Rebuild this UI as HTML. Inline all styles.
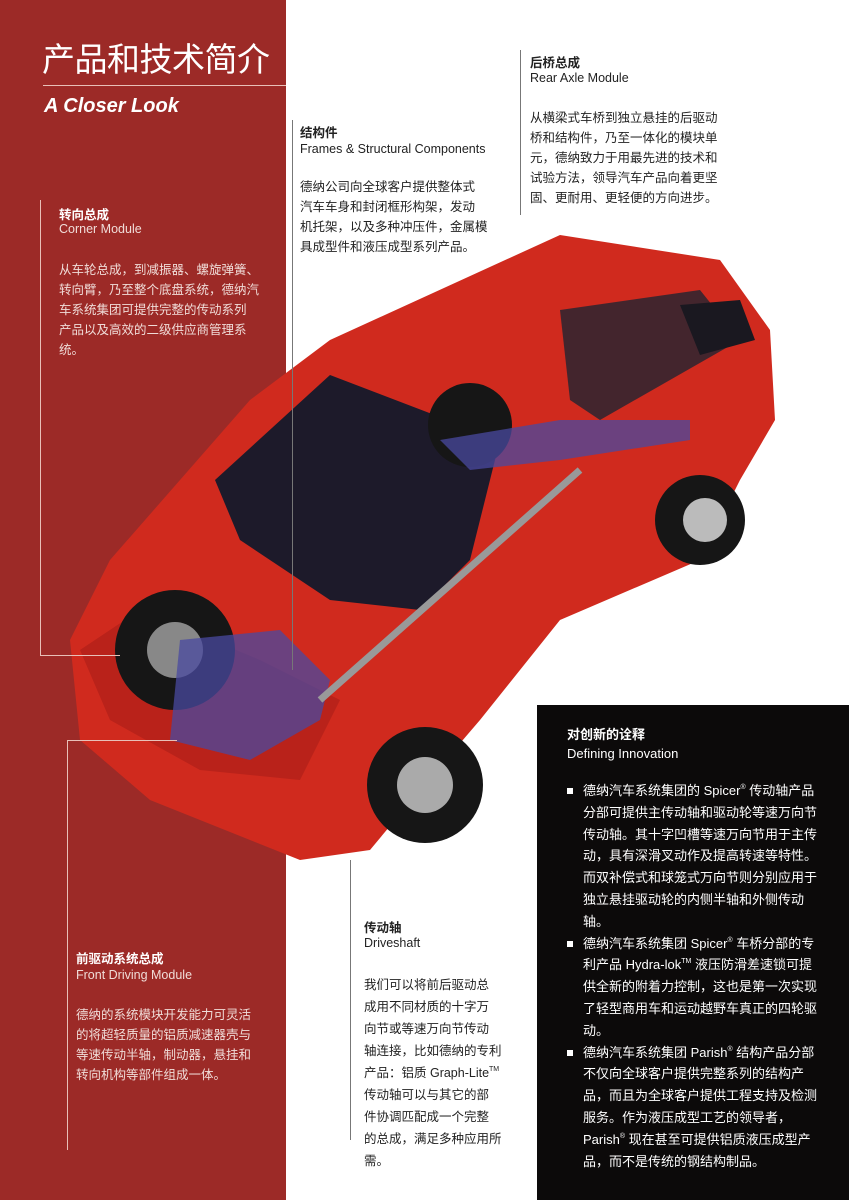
<!DOCTYPE html>
<html><head><meta charset="utf-8"><style>
body{margin:0;width:849px;height:1200px;position:relative;overflow:hidden;background:#fff;font-family:"Liberation Sans","Noto Sans CJK SC",sans-serif;}
.a{position:absolute}
.red{left:0;top:0;width:286px;height:1200px;background:#9c2a27}
.blk{left:537px;top:705px;width:312px;height:495px;background:#0c0a0a}
.h{font-size:12.5px;font-weight:bold}
.s{font-size:12.5px}
.p{font-size:12.5px;line-height:20px}
.w{color:#fff}.lw{color:#f0dcd8}.d{color:#222}
.ln{position:absolute;background:#777}
sup{font-size:7px;line-height:0;vertical-align:6px}
ul{margin:0;padding:0;list-style:none}
li{position:relative;padding-left:16px;white-space:nowrap}
li:before{content:"";position:absolute;left:0;top:8px;width:6px;height:6px;background:#fff}
</style></head><body>
<div class="a red"></div>
<svg class="a" style="left:0;top:0" width="849" height="1200">
<path d="M70 640 L110 560 L250 400 L330 340 L560 235 L720 260 L770 330 L775 420 L740 480 L700 560 L560 620 L480 720 L420 790 L370 850 L300 860 L150 800 L80 740 Z" fill="#d02a1e"/>
<path d="M215 480 L330 375 L500 440 L470 560 L420 610 L330 600 L240 540 Z" fill="#1d1a2a"/>
<path d="M560 310 L700 290 L740 340 L600 420 L570 400 Z" fill="#2a2530" opacity="0.85"/>
<path d="M680 305 L740 300 L755 340 L700 355 Z" fill="#1a1820"/>
<path d="M80 650 L140 610 L260 660 L340 700 L300 780 L200 770 L110 720 Z" fill="#b9221a"/>
<circle cx="175" cy="650" r="60" fill="#161616"/><circle cx="175" cy="650" r="28" fill="#888"/>
<circle cx="425" cy="785" r="58" fill="#161616"/><circle cx="425" cy="785" r="28" fill="#aaa"/>
<circle cx="470" cy="425" r="42" fill="#161616"/>
<circle cx="700" cy="520" r="45" fill="#161616"/><circle cx="705" cy="520" r="22" fill="#bbb"/>
<path d="M180 640 L280 630 L330 680 L320 720 L250 760 L170 740 Z" fill="#4a4aa0" opacity="0.75"/>
<path d="M440 440 L560 420 L690 420 L690 440 L560 460 L470 470 Z" fill="#4a4aa0" opacity="0.75"/>
<line x1="320" y1="700" x2="580" y2="470" stroke="#999" stroke-width="7"/>
</svg>
<div class="ln" style="left:43px;top:85px;width:243px;height:1px;background:#e8c0b8"></div>
<div class="a w" style="left:42px;top:33px;font-size:33px;letter-spacing:-0.5px;white-space:nowrap">产品和技术简介</div>
<div class="a w" style="left:44px;top:95px;font-size:20px;font-weight:bold;font-style:italic">A Closer Look</div>
<div class="ln" style="left:40px;top:200px;width:1px;height:455px;background:#e8c0b8"></div>
<div class="ln" style="left:40px;top:655px;width:80px;height:1px;background:#e8c0b8"></div>
<div class="ln" style="left:67px;top:740px;width:1px;height:410px;background:#e8c0b8"></div>
<div class="ln" style="left:67px;top:740px;width:110px;height:1px;background:#e8c0b8"></div>
<div class="ln" style="left:292px;top:120px;width:1px;height:550px"></div>
<div class="ln" style="left:520px;top:50px;width:1px;height:165px"></div>
<div class="ln" style="left:350px;top:860px;width:1px;height:280px"></div>
<div class="a w h" style="left:59px;top:204px">转向总成</div>
<div class="a lw s" style="left:59px;top:222px">Corner Module</div>
<div class="a lw p" style="left:59px;top:260px;width:210px">从车轮总成，到减振器、螺旋弹簧、<br>转向臂，乃至整个底盘系统，德纳汽<br>车系统集团可提供完整的传动系列<br>产品以及高效的二级供应商管理系<br>统。</div>
<div class="a d h" style="left:300px;top:122px">结构件</div>
<div class="a d s" style="left:300px;top:142px">Frames &amp; Structural Components</div>
<div class="a d p" style="left:300px;top:177px;width:200px">德纳公司向全球客户提供整体式<br>汽车车身和封闭框形构架，发动<br>机托架，以及多种冲压件，金属模<br>具成型件和液压成型系列产品。</div>
<div class="a d h" style="left:530px;top:52px">后桥总成</div>
<div class="a d s" style="left:530px;top:71px">Rear Axle Module</div>
<div class="a d p" style="left:530px;top:108px;width:200px">从横梁式车桥到独立悬挂的后驱动<br>桥和结构件，乃至一体化的模块单<br>元，德纳致力于用最先进的技术和<br>试验方法，领导汽车产品向着更坚<br>固、更耐用、更轻便的方向进步。</div>
<div class="a w h" style="left:76px;top:948px">前驱动系统总成</div>
<div class="a lw s" style="left:76px;top:968px">Front Driving Module</div>
<div class="a lw p" style="left:76px;top:1005px;width:200px">德纳的系统模块开发能力可灵活<br>的将超轻质量的铝质减速器壳与<br>等速传动半轴，制动器，悬挂和<br>转向机构等部件组成一体。</div>
<div class="a d h" style="left:364px;top:917px">传动轴</div>
<div class="a d s" style="left:364px;top:936px">Driveshaft</div>
<div class="a d p" style="left:364px;top:974px;width:170px;line-height:22px">我们可以将前后驱动总<br>成用不同材质的十字万<br>向节或等速万向节传动<br>轴连接，比如德纳的专利<br>产品：铝质 Graph-Lite<sup>TM</sup><br>传动轴可以与其它的部<br>件协调匹配成一个完整<br>的总成，满足多种应用所<br>需。</div>
<div class="a blk"></div>
<div class="a w h" style="left:567px;top:724px;font-size:13px">对创新的诠释</div>
<div class="a w s" style="left:567px;top:746px;font-size:13px">Defining Innovation</div>
<div class="a w" style="left:567px;top:780px;font-size:13px;line-height:21.8px">
<ul>
<li>德纳汽车系统集团的 Spicer<sup>®</sup> 传动轴产品<br>分部可提供主传动轴和驱动轮等速万向节<br>传动轴。其十字凹槽等速万向节用于主传<br>动，具有深滑叉动作及提高转速等特性。<br>而双补偿式和球笼式万向节则分别应用于<br>独立悬挂驱动轮的内侧半轴和外侧传动<br>轴。</li>
<li>德纳汽车系统集团 Spicer<sup>®</sup> 车桥分部的专<br>利产品 Hydra-lok<sup>TM</sup> 液压防滑差速锁可提<br>供全新的附着力控制，这也是第一次实现<br>了轻型商用车和运动越野车真正的四轮驱<br>动。</li>
<li>德纳汽车系统集团 Parish<sup>®</sup> 结构产品分部<br>不仅向全球客户提供完整系列的结构产<br>品，而且为全球客户提供工程支持及检测<br>服务。作为液压成型工艺的领导者，<br>Parish<sup>®</sup> 现在甚至可提供铝质液压成型产<br>品，而不是传统的钢结构制品。</li>
</ul></div>
</body></html>
